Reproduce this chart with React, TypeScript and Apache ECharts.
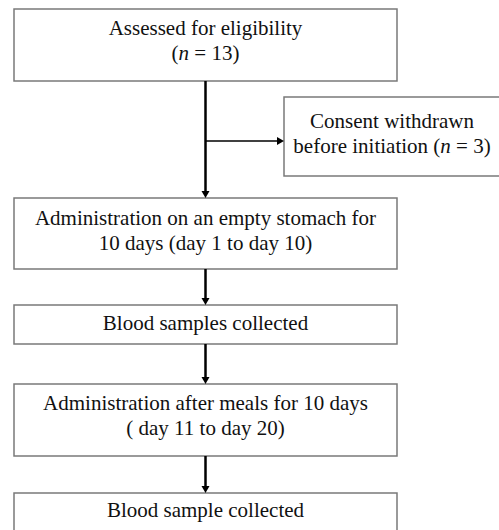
import React, { useEffect, useRef } from "react";
import * as echarts from "echarts";

// Flow steps (main column), top to bottom
const stepTexts: string[] = [
  "Assessed for eligibility\n({i|n} = 13)",
  "Administration on an empty stomach for\n10 days (day 1 to day 10)",
  "Blood samples collected",
  "Administration after meals for 10 days\n( day 11 to day 20)",
  "Blood sample collected",
];
// Side exclusion box
const exclusionText = "Consent withdrawn\nbefore initiation ({i|n} = 3)";

// Layout (pixels)
const MAIN_X = 14;
const MAIN_W = 383;
const stepTops = [9, 198, 305, 384, 493];
const stepHeights = [72, 71, 39, 72, 60];
const textCenters = [40, 230, 323, 415, 510];
const SIDE = { x: 284, y: 97, w: 240, h: 79 };
const BRANCH_Y = 141;

const FONT = "Liberation Serif";
const FS = 21;
const LH = 25;
const BORDER = "#7a7a7a";

function arrowHead(x: number, yTip: number, dir: "down" | "right") {
  const s = 4;
  const l = 7;
  const pts =
    dir === "down"
      ? [[x - s, yTip - l], [x + s, yTip - l], [x, yTip]]
      : [[yTip - l, x - s], [yTip - l, x + s], [yTip, x]];
  return { type: "polygon", shape: { points: pts }, style: { fill: "#000" }, silent: true };
}

function textStyle(text: string) {
  return {
    text,
    font: `${FS}px "${FONT}", serif`,
    fontFamily: FONT,
    fontSize: FS,
    lineHeight: LH,
    fill: "#111",
    align: "center",
    verticalAlign: "middle",
    rich: {
      i: {
        font: `italic ${FS}px "${FONT}", serif`,
        fontStyle: "italic",
        fontFamily: FONT,
        fontSize: FS,
        lineHeight: LH,
        fill: "#111",
      },
    },
  };
}

export default function App() {
  const ref = useRef<HTMLDivElement>(null);
  useEffect(() => {
    document.body.style.margin = "0";
    const chart = echarts.init(ref.current!, undefined, { renderer: "svg" });
    const cx = MAIN_X + MAIN_W / 2;
    const elements: any[] = [];
    stepTexts.forEach((t, k) => {
      elements.push({
        type: "rect",
        shape: { x: MAIN_X, y: stepTops[k], width: MAIN_W, height: stepHeights[k] },
        style: { fill: "#fff", stroke: BORDER, lineWidth: 1.5 },
        silent: true,
      });
      elements.push({
        type: "text",
        x: cx,
        y: textCenters[k],
        style: textStyle(t),
        silent: true,
      });
    });
    // vertical connectors
    for (let k = 0; k < stepTexts.length - 1; k++) {
      const y1 = stepTops[k] + stepHeights[k];
      const y2 = stepTops[k + 1];
      elements.push({
        type: "line",
        shape: { x1: cx, y1, x2: cx, y2: y2 - 5 },
        style: { stroke: "#000", lineWidth: 2.5 },
        silent: true,
      });
      elements.push(arrowHead(cx, y2, "down"));
    }
    // side box
    elements.push({
      type: "rect",
      shape: { x: SIDE.x, y: SIDE.y, width: SIDE.w, height: SIDE.h },
      style: { fill: "#fff", stroke: BORDER, lineWidth: 1.5 },
      silent: true,
    });
    elements.push({
      type: "text",
      x: SIDE.x + 108,
      y: SIDE.y + SIDE.h / 2 - 3,
      style: textStyle(exclusionText),
      silent: true,
    });
    elements.push({
      type: "line",
      shape: { x1: cx, y1: BRANCH_Y, x2: SIDE.x - 5, y2: BRANCH_Y },
      style: { stroke: "#000", lineWidth: 1.5 },
      silent: true,
    });
    elements.push(arrowHead(BRANCH_Y, SIDE.x, "right"));

    chart.setOption({
      animation: false,
      backgroundColor: "#fff",
      textStyle: { fontFamily: FONT },
      graphic: { elements },
    });
    return () => chart.dispose();
  }, []);
  return <div ref={ref} style={{ width: 499, height: 530 }} />;
}
